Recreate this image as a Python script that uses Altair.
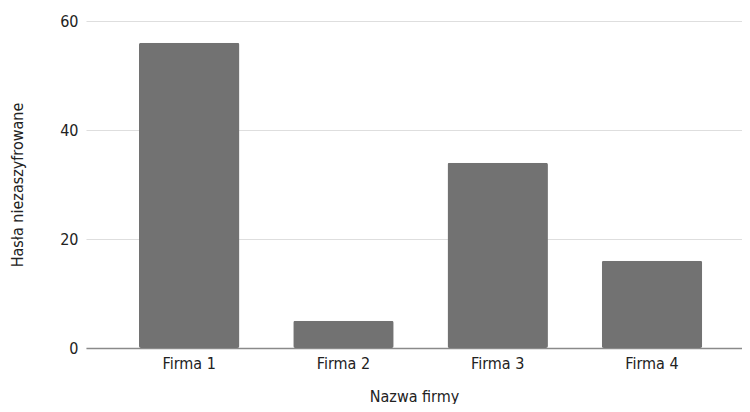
import altair as alt
import pandas as pd

firms = ["Firma 1", "Firma 2", "Firma 3", "Firma 4"]
values = [56, 5, 34, 16]

df = pd.DataFrame({"firma": firms, "haslo": values})

FONT = "DejaVu Sans Condensed, Liberation Sans Narrow, sans-serif"

chart = alt.Chart(df).mark_bar(color="#727272", cornerRadius=2).encode(
    x=alt.X("firma:N", title="Nazwa firmy", sort=firms,
            scale=alt.Scale(paddingInner=0.349, paddingOuter=0.3007, align=0.571),
            axis=alt.Axis(labelAngle=0, ticks=False, domainColor="#8a8a8a", domainWidth=1.5,
                          labelPadding=7, titlePadding=17, grid=False)),
    y=alt.Y("haslo:Q", title="Hasła niezaszyfrowane",
            scale=alt.Scale(domain=[0, 60]),
            axis=alt.Axis(values=[0, 20, 40, 60], ticks=False, domain=False,
                          gridColor="#dedede", gridWidth=1.2, labelPadding=8,
                          titlePadding=34)),
).properties(
    width=656, height=327,
    autosize=alt.AutoSizeParams(type="none"),
    padding={"left": 78, "top": 13, "right": 0, "bottom": 56},
    background="white",
).configure_axis(
    labelFont=FONT, titleFont=FONT, labelFontSize=16, titleFontSize=16,
    labelColor="#222222", titleColor="#222222", titleFontWeight="normal",
).configure_view(stroke=None)

chart.save("out.html", embed_options={"renderer": "svg", "actions": False})
